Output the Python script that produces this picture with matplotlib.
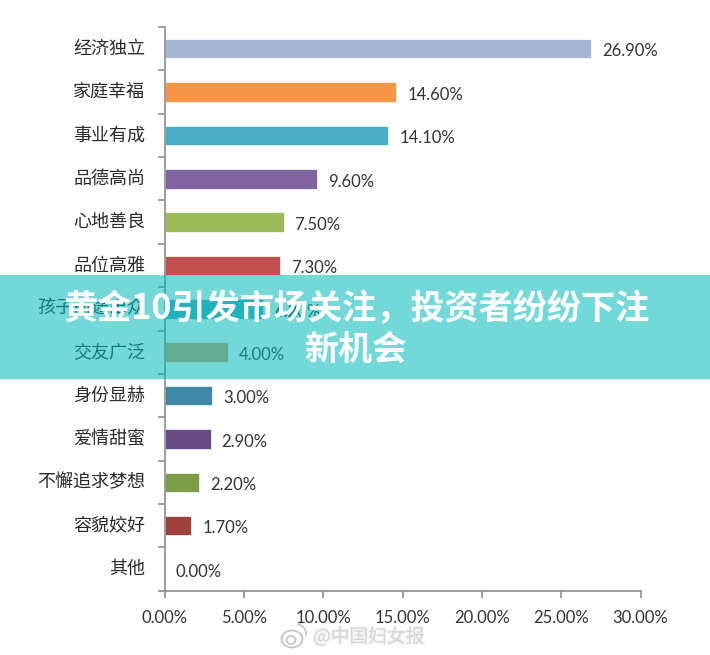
import matplotlib
matplotlib.use("Agg")
import matplotlib.pyplot as plt
from matplotlib.patches import Rectangle, Ellipse, Arc
import matplotlib.patheffects as pe

plt.rcParams["font.family"] = ["Noto Sans CJK SC", "DejaVu Sans"]

categories = ["经济独立", "家庭幸福", "事业有成", "品德高尚", "心地善良", "品位高雅", "孩子前途出众",
              "交友广泛", "身份显赫", "爱情甜蜜", "不懈追求梦想", "容貌姣好", "其他"]
values = [26.9, 14.6, 14.1, 9.6, 7.5, 7.3, 6.2, 4.0, 3.0, 2.9, 2.2, 1.7, 0.0]
# 交友广泛 bar is picked so it looks right once the band is on top of it
colors = ["#A8B6D6", "#F79646", "#4BACC6", "#8064A2", "#9BBB59", "#C0504D", "#4BACC6",
          "#DE9E68", "#4089A6", "#684A85", "#7D9C47", "#9E413E", "#4BACC6"]
xticks = [0, 5, 10, 15, 20, 25, 30]
title_lines = ["黄金10引发市场关注，投资者纷纷下注", "新机会"]
watermark = "@中国妇女报"

W, H = 710, 655
fig = plt.figure(figsize=(W / 100, H / 100), dpi=100)
ax = fig.add_axes([164.5 / W, (H - 590.7) / H, 476 / W, 563.7 / H])

y = [i + 0.5 for i in range(len(values))]
ax.barh(y, values, height=0.45, color=colors, edgecolor="white", linewidth=0.5)
ax.set_xlim(0, 30)
ax.set_ylim(13, 0)

for yi, v in zip(y, values):
    ax.annotate("%.2f%%" % v, (v, yi), xytext=(8, -2), textcoords="offset points",
                va="center", ha="left", fontsize=12, color="#333333",
                family=["Lato", "DejaVu Sans"])

ax.set_yticks(range(14))
ax.set_yticklabels([])
for yi, c in zip(y, categories):
    ax.annotate(c, (0, yi), xytext=(-14, 0), textcoords="offset points", va="center",
                ha="right", fontsize=13, color="#2b2b2b")

ax.set_xticks(xticks)
ax.set_xticklabels(["%.2f%%" % t for t in xticks], fontsize=12, color="#333333",
                   family=["Lato", "DejaVu Sans"])
ax.tick_params(axis="both", length=5, width=1.2, color="#8c8c8c")
ax.tick_params(axis="x", pad=9)
ax.spines["top"].set_visible(False)
ax.spines["right"].set_visible(False)
ax.spines["left"].set_color("#8c8c8c")
ax.spines["bottom"].set_color("#8c8c8c")
ax.spines["left"].set_linewidth(1.2)
ax.spines["bottom"].set_linewidth(1.2)

# teal band over the chart
fig.add_artist(Rectangle((0, (H - 379) / H), 1, 104 / H, transform=fig.transFigure,
                         facecolor="#00B8B8", alpha=0.55, edgecolor="none", zorder=5))
fig.text(356.5 / W, (H - 309) / H, title_lines[0], ha="center", va="center", color="white",
         fontsize=24.6, fontweight="bold", zorder=6)
fig.text(355 / W, (H - 349) / H, title_lines[1], ha="center", va="center", color="white",
         fontsize=24.6, fontweight="bold", zorder=6)

# watermark
fig.text(313 / W, (H - 637) / H, watermark, ha="left", va="center", color="#d4d4d4",
         fontsize=13.5, zorder=6,
         path_effects=[pe.withStroke(linewidth=2, foreground="#f4f4f4")])
fig.add_artist(Ellipse((292 / W, (H - 639) / H), 21 / W, 17 / H, transform=fig.transFigure,
                       fill=False, edgecolor="#c4c4c4", linewidth=1.3, zorder=6))
fig.add_artist(Ellipse((291 / W, (H - 640) / H), 9 / W, 8 / H, transform=fig.transFigure,
                       fill=False, edgecolor="#c4c4c4", linewidth=1.2, zorder=6))
fig.add_artist(Arc((296 / W, (H - 634) / H), 20 / W, 20 / H, theta1=-10, theta2=85,
                   transform=fig.transFigure, edgecolor="#c4c4c4", linewidth=1.2, zorder=6))

fig.savefig("out.png", dpi=100)
